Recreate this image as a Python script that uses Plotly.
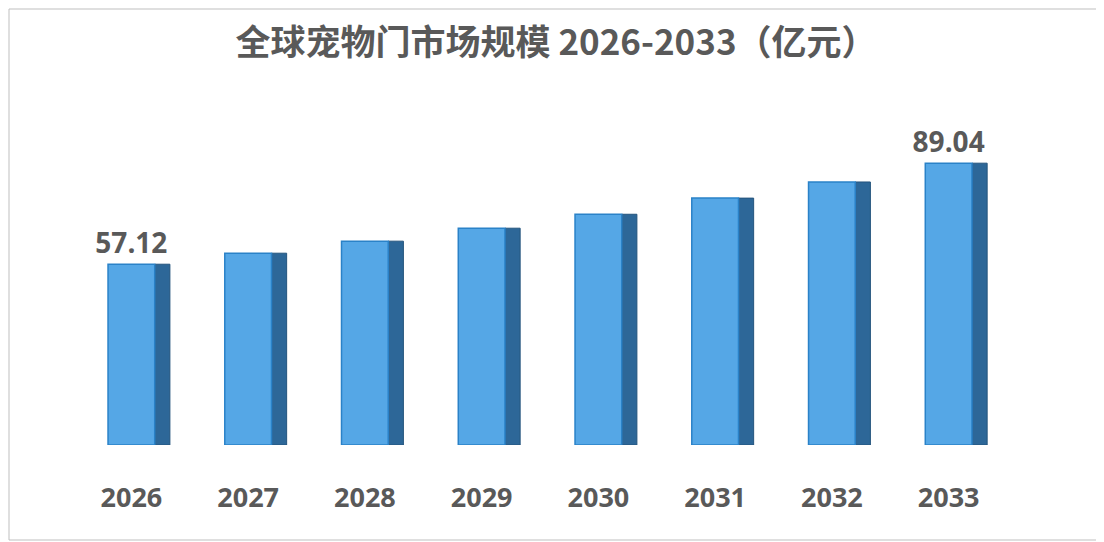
import plotly.graph_objects as go

years = ["2026","2027","2028","2029","2030","2031","2032","2033"]
values = [57.12, 60.6, 64.4, 68.5, 72.9, 78.0, 83.1, 89.04]
labels = ["<b>57.12</b>","","","","","","","<b>89.04</b>"]

L, R, T, B, W, H = 65, 97, 92, 97, 1096, 534
pw, ph = W - L - R, H - T - B

fig = go.Figure()
fig.add_trace(go.Bar(x=years, y=values, width=0.13, offset=0.2,
                     marker=dict(color="#2d6798", line=dict(color="#24547d", width=1)),
                     hoverinfo="skip", showlegend=False))
fig.add_trace(go.Bar(x=years, y=values, width=0.4, offset=-0.2,
                     marker=dict(color="#55a7e6", line=dict(color="#2a82c8", width=1.5)),
                     text=labels, textposition="outside", constraintext="none",
                     textfont=dict(size=28, color="#595959", family="Open Sans"),
                     cliponaxis=False, showlegend=False))
fig.update_layout(
    width=W, height=H, barmode="overlay",
    paper_bgcolor="white", plot_bgcolor="white",
    margin=dict(l=L, r=R, t=T, b=B),
    title=dict(text="<b>全球宠物门市场规模 2026-2033（亿元）</b>", x=0.5, y=0.935,
               xanchor="center", yanchor="middle",
               font=dict(size=35, color="#595959", family="Noto Sans CJK SC")),
    xaxis=dict(showline=False, showgrid=False, ticks="",
               tickfont=dict(size=27, color="#595959", family="Open Sans"),
               ticklabelstandoff=34),
    yaxis=dict(visible=False, range=[0, 109]),
    shapes=[dict(type="rect", xref="paper", yref="paper",
                 x0=-(L - 1) / pw, x1=1 + (R - 2) / pw,
                 y0=-(B - 2) / ph, y1=1 + (T - 1) / ph,
                 line=dict(color="#bfbfbf", width=1))],
)
fig.update_xaxes(tickprefix="<b>", ticksuffix="</b>")
fig.write_html("out.html")
